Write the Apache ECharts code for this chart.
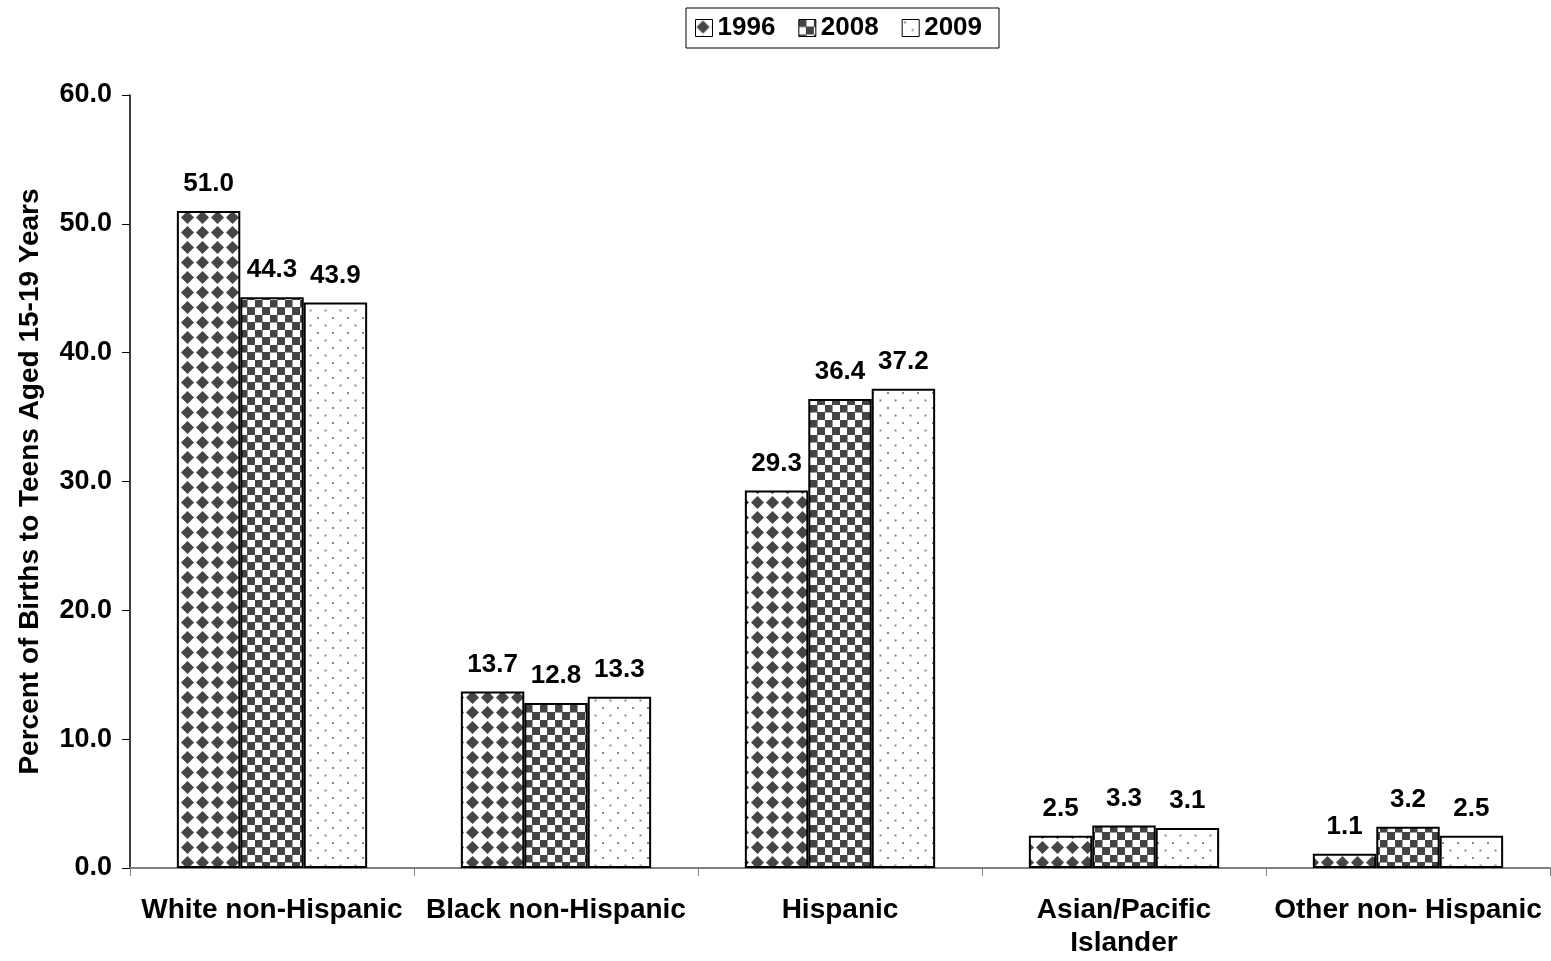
<!DOCTYPE html>
<html>
<head>
<meta charset="utf-8">
<script src="https://cdn.jsdelivr.net/npm/echarts@6/dist/echarts.min.js"></script>
<style>
  html, body { margin: 0; padding: 0; background: #fff; }
  #chart { width: 1551px; height: 961px; }
</style>
</head>
<body>
<div id="chart"></div>
<script>
// Teen births by race/ethnicity, percent share
const categories = ['White non-Hispanic', 'Black non-Hispanic', 'Hispanic', 'Asian/Pacific\nIslander', 'Other non- Hispanic'];
const years = ['1996', '2008', '2009'];
const values1996 = [51.0, 13.7, 29.3, 2.5, 1.1];
const values2008 = [44.3, 12.8, 36.4, 3.3, 3.2];
const values2009 = [43.9, 13.3, 37.2, 3.1, 2.5];
const yTicks = { min: 0, max: 60, interval: 10 };

const FONT = '"Liberation Sans", Arial, sans-serif';

// Fill patterns drawn on small canvases
function makeTile(size, draw) {
  const c = document.createElement('canvas');
  c.width = size; c.height = size;
  const ctx = c.getContext('2d');
  ctx.fillStyle = '#fff';
  ctx.fillRect(0, 0, size, size);
  draw(ctx, size);
  return c;
}
const diamondTile = makeTile(15, (ctx) => {
  ctx.fillStyle = '#454545';
  ctx.beginPath();
  ctx.moveTo(7.5, 1.0);
  ctx.lineTo(14.0, 7.5);
  ctx.lineTo(7.5, 14.0);
  ctx.lineTo(1.0, 7.5);
  ctx.closePath();
  ctx.fill();
});
const checkTile = makeTile(15, (ctx) => {
  ctx.fillStyle = '#444';
  ctx.fillRect(0, 0, 7, 7);
  ctx.fillRect(7, 7, 8, 8);
  ctx.fillStyle = '#999';
  ctx.fillRect(7, 0, 1, 7);
  ctx.fillRect(0, 7, 7, 1);
});
const dotTile = makeTile(15, (ctx) => {
  ctx.fillStyle = '#8a8a8a';
  ctx.fillRect(2, 2, 2, 2);
  ctx.fillRect(9.5, 9.5, 2, 2);
});
const fills = [
  { image: diamondTile, repeat: 'repeat' },
  { image: checkTile, repeat: 'repeat' },
  { image: dotTile, repeat: 'repeat' }
];

const seriesValues = [values1996, values2008, values2009];

const chart = echarts.init(document.getElementById('chart'), null, { renderer: 'canvas' });
chart.setOption({
  animation: false,
  backgroundColor: '#fff',
  textStyle: { fontFamily: FONT },
  legend: {
    data: years,
    left: 686,
    top: 8,
    padding: [6, 17, 6, 9],
    itemGap: 23,
    itemWidth: 17,
    itemHeight: 17,
    borderColor: '#000',
    borderWidth: 1,
    icon: 'rect',
    itemStyle: { borderColor: '#000', borderWidth: 1 },
    textStyle: { fontFamily: FONT, fontWeight: 'bold', fontSize: 26, color: '#000', lineHeight: 28 }
  },
  grid: { left: 130, right: 1, top: 95, bottom: 93, containLabel: false },
  xAxis: {
    type: 'category',
    data: categories,
    axisLine: { lineStyle: { color: '#808080', width: 2 } },
    axisTick: { show: true, length: 8, lineStyle: { color: '#808080', width: 1 } },
    axisLabel: {
      margin: 26,
      interval: 0,
      fontFamily: FONT, fontWeight: 'bold', fontSize: 28, color: '#000', lineHeight: 33
    }
  },
  yAxis: {
    type: 'value',
    min: yTicks.min, max: yTicks.max, interval: yTicks.interval,
    name: 'Percent of Births to Teens Aged 15-19 Years',
    nameLocation: 'middle',
    nameRotate: 90,
    nameGap: 86,
    nameTextStyle: { fontFamily: FONT, fontWeight: 'bold', fontSize: 28, color: '#000' },
    axisLine: { show: true, lineStyle: { color: '#000', width: 1.5 } },
    axisTick: { show: true, length: 8, lineStyle: { color: '#000', width: 1 } },
    splitLine: { show: false },
    axisLabel: {
      margin: 18,
      formatter: v => v.toFixed(1),
      fontFamily: FONT, fontWeight: 'bold', fontSize: 27, color: '#000'
    }
  },
  series: years.map((y, i) => ({
    name: y,
    type: 'bar',
    data: seriesValues[i],
    barGap: '0%',
    barCategoryGap: '33%',
    itemStyle: { color: fills[i], borderColor: '#000', borderWidth: 2 },
    label: {
      show: true,
      position: 'top',
      distance: 14,
      formatter: p => p.value.toFixed(1),
      fontFamily: FONT, fontWeight: 'bold', fontSize: 26, color: '#000'
    }
  }))
});
</script>
</body>
</html>
